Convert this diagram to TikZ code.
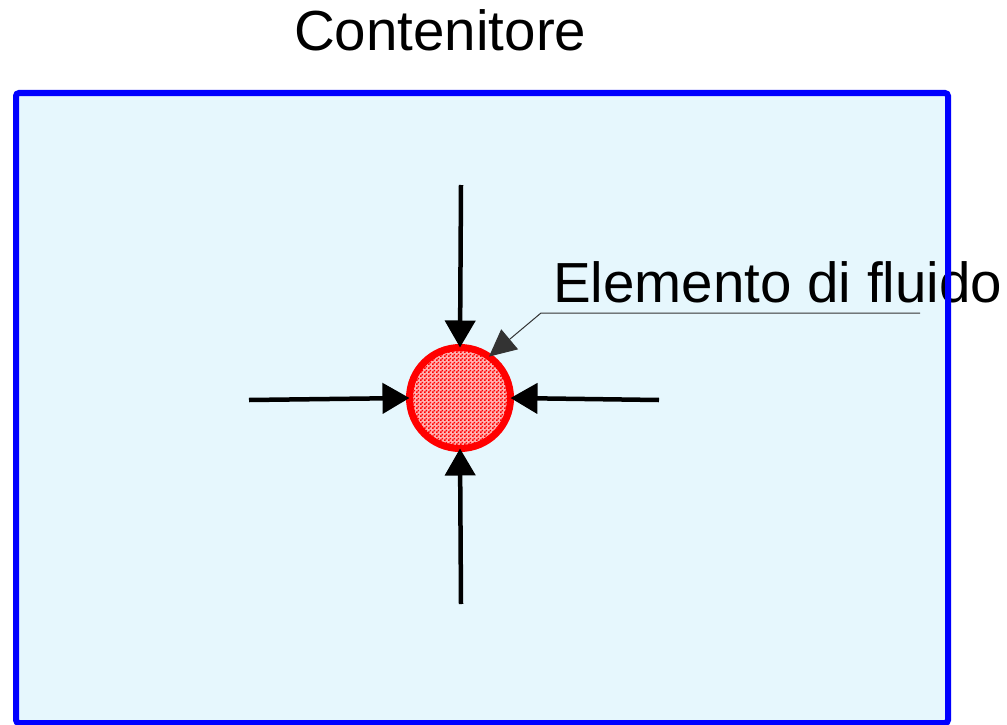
\documentclass[tikz,border=0pt]{standalone}
\usepackage{fontspec}
\setmainfont{Liberation Sans}
\usetikzlibrary{arrows.meta,patterns}
\definecolor{fluidbg}{RGB}{230,247,253}
\definecolor{wallblue}{RGB}{0,0,255}
\definecolor{elred}{RGB}{255,0,0}
% fine red checker used for the fluid element
\pgfdeclarepatternformonly{redchecker}{\pgfqpoint{0pt}{0pt}}{\pgfqpoint{4pt}{4pt}}{\pgfqpoint{4pt}{4pt}}{%
  \pgfpathrectangle{\pgfqpoint{0pt}{0pt}}{\pgfqpoint{2pt}{2pt}}%
  \pgfpathrectangle{\pgfqpoint{2pt}{2pt}}{\pgfqpoint{2pt}{2pt}}%
  \pgfusepath{fill}}
\tikzset{
  label text/.style={inner sep=0pt, anchor=base west, font=\fontsize{56.5}{62}\selectfont},
  push/.style={line width=4.5pt, -{Triangle[length=27pt,width=30pt]}},
  leader/.style={line width=1pt, black!80, -{Triangle[length=27pt,width=26pt]}},
  element/.style={circle, draw=elred, line width=7pt, minimum size=101pt, inner sep=0pt, outer sep=0pt,
    fill=elred!30, postaction={pattern=redchecker, pattern color=elred}},
}
\begin{document}
\begin{tikzpicture}[x=1pt, y=-1pt]
  \useasboundingbox (0,0) rectangle (1007,725);
  % container body
  \fill[fluidbg] (16,93) rectangle (948,723);

  % titles
  \node[label text] (title) at (294,51) {Contenitore};
  \node[label text] (ellabel) at (553,302) {Elemento di fluido};

  % container wall, drawn over the label
  \draw[wallblue, line width=6pt, rounded corners=3pt] (16,723) -- (16,93) -- (948,93) -- (948,723) -- cycle;

  % fluid element
  \node[element] (el) at (460,398) {};

  % free ends of the pressure arrows
  \coordinate (top) at (461,185);
  \coordinate (bottom) at (461,604);
  \coordinate (left) at (249,400);
  \coordinate (right) at (659,400);

  \draw[push] (top) -- (el.north);
  \draw[push] (bottom) -- (el.south);
  \draw[push] (left) -- (el.west);
  \draw[push] (right) -- (el.east);

  % leader from the label to the element
  \coordinate (leadend) at (920,313);
  \coordinate (leadknee) at (541,313);
  \draw[leader] (leadend) -- (leadknee) -- (el.55);
\end{tikzpicture}
\end{document}
